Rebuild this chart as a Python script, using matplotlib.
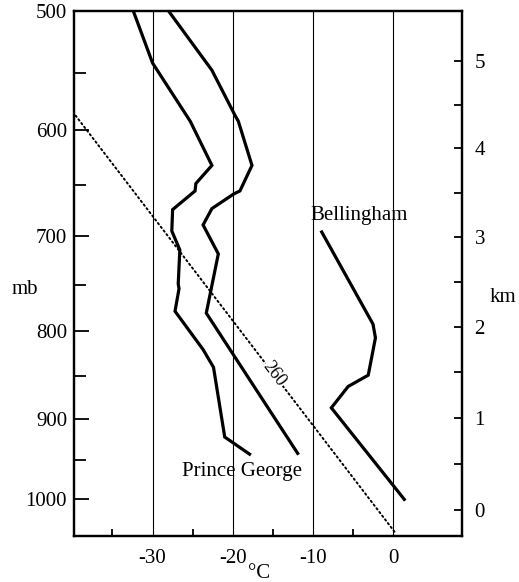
import numpy as np
import matplotlib; matplotlib.use("Agg"); import matplotlib.pyplot as plt

plt.rcParams["font.family"] = ["Liberation Serif", "DejaVu Serif"]

# Prince George, left (colder) trace
pg_left_t = [-32.4, -30.0, -25.3, -22.6, -24.6, -24.7, -27.5, -27.6, -26.6, -26.8, -26.7, -27.2, -23.7, -22.4, -21.0, -17.9]
pg_left_p = [500, 542, 592, 632, 649, 656, 674, 695, 714, 749, 754, 778, 820, 840, 922, 943]
# Prince George, right (warmer) trace
pg_right_t = [-28.0, -22.6, -19.7, -19.3, -17.6, -19.1, -19.9, -22.6, -23.7, -21.8, -23.3, -11.9]
pg_right_p = [500, 548, 587, 592, 632, 656, 659, 673, 689, 718, 780, 942]
# Bellingham
bel_t = [-8.9, -2.5, -2.2, -2.8, -3.1, -5.6, -7.7, 1.4]
bel_p = [696, 792, 807, 835, 849, 862, 887, 1000]
# dry adiabat labelled 260
adiab_t = [-39.6, 0.3]
adiab_p = [587, 1044]

p_ticks = [500, 600, 700, 800, 900, 1000]
p_minor = [550, 650, 750, 850, 950]
t_ticks = [-30, -20, -10, 0]
t_minor = [-35, -25, -15, -5]
km_ticks = [0, 1, 2, 3, 4, 5]
km_minor = [0.5, 1.5, 2.5, 3.5, 4.5]

KAPPA = 0.286
fwd = lambda p: np.power(np.clip(p, 1e-6, None), KAPPA)
inv = lambda u: np.power(np.clip(u, 1e-6, None), 1 / KAPPA)
def km_to_p(h):  # standard atmosphere
    return 1013.25 * (1 - 2.25577e-5 * np.asarray(h) * 1000) ** 5.25588

fig = plt.figure(figsize=(5.19, 5.82), dpi=100)
ax = fig.add_axes([0.1426, 0.079, 0.7476, 0.902])
ax.set_yscale("function", functions=(fwd, inv))
ax.set_xlim(-39.8, 8.6); ax.set_ylim(1048, 500)

kw = dict(color="k", lw=2.3, solid_joinstyle="miter")
ax.plot(pg_left_t, pg_left_p, **kw)
ax.plot(pg_right_t, pg_right_p, **kw)
ax.plot(bel_t, bel_p, **kw)
ax.plot(adiab_t, adiab_p, color="k", lw=1.4, ls=(0, (0.8, 1.6)), dash_capstyle="round")

ax.text(-14.8, 848, "260", rotation=-52.5, ha="center", va="center", fontsize=13,
        bbox=dict(fc="white", ec="none", pad=0.5))
ax.text(-18.9, 965, "Prince George", ha="center", va="center", fontsize=15)
ax.text(-4.2, 680, "Bellingham", ha="center", va="center", fontsize=15)

ax.set_xticks(t_ticks); ax.set_xticks(t_minor, minor=True)
ax.set_xticklabels([str(t) for t in t_ticks], fontsize=15)
ax.grid(axis="x", which="major", color="k", lw=0.8)
ax.tick_params(axis="x", which="major", length=0, pad=9)
ax.tick_params(axis="x", which="minor", direction="in", length=5, width=1.3)

ax.set_yticks(p_ticks); ax.set_yticks(p_minor, minor=True)
ax.set_yticklabels([str(p) for p in p_ticks], fontsize=15)
ax.tick_params(axis="y", which="major", direction="in", length=10.5, width=1.3, pad=5)
ax.tick_params(axis="y", which="minor", direction="in", length=8.5, width=1.3)
ax.tick_params(axis="y", right=False, which="both")
for s in ax.spines.values(): s.set_linewidth(1.6)

ax2 = ax.twinx()
ax2.set_yscale("function", functions=(fwd, inv))
ax2.set_ylim(1048, 500)
ax2.set_yticks(km_to_p(km_ticks)); ax2.set_yticks(km_to_p(km_minor), minor=True)
ax2.set_yticklabels([str(k) for k in km_ticks], fontsize=15)
ax2.tick_params(axis="y", which="both", direction="in", length=6, width=1.3, pad=9)
ax2.tick_params(axis="y", which="minor", labelright=False)
for s in ax2.spines.values(): s.set_linewidth(1.6)

ax.text(-0.126, 0.469, "mb", transform=ax.transAxes, ha="center", va="center", fontsize=15)
ax.text(1.106, 0.455, "km", transform=ax.transAxes, ha="center", va="center", fontsize=15)
ax.text(0.477, -0.072, "°C", transform=ax.transAxes, ha="center", va="center", fontsize=15)

fig.savefig("out.png", dpi=100)
